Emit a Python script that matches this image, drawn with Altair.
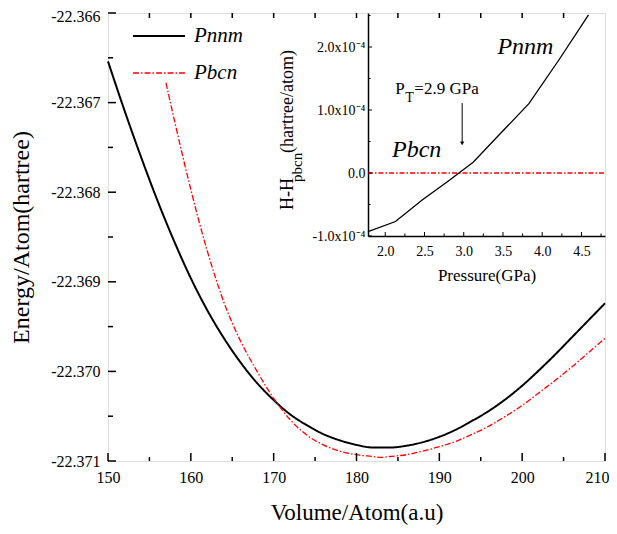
import altair as alt
import pandas as pd

FONT = "Liberation Serif"

# ---------------- main panel data ----------------
phases = ["Pnnm", "Pbcn"]
vol_pnnm = [150, 152, 154, 156, 158, 160, 162, 164, 166, 168, 170, 172, 174, 176, 178, 180,
            182, 184, 186, 188, 190, 192, 194, 196, 198, 200, 202, 204, 206, 208, 210]
e_pnnm = [-22.36654, -22.36709, -22.36761, -22.36810, -22.36855, -22.36896, -22.36932, -22.36963,
          -22.36990, -22.37013, -22.37032, -22.37048, -22.37060, -22.37070, -22.37077, -22.37082,
          -22.37085, -22.37085, -22.37083, -22.37079, -22.37073, -22.37065, -22.37055, -22.37044,
          -22.37031, -22.37016, -22.36999, -22.36981, -22.36962, -22.36943, -22.36924]
vol_pbcn = [157, 158, 159, 160, 161, 162, 163, 164, 165, 166, 168, 170, 172, 174, 176, 178, 180,
            182, 183, 184, 186, 188, 190, 192, 194, 196, 198, 200, 202, 204, 206, 208, 210]
e_pbcn = [-22.36678, -22.36719, -22.36759, -22.36797, -22.36833, -22.36866, -22.36896, -22.36923,
          -22.36946, -22.36966, -22.37000, -22.37030, -22.37054, -22.37071, -22.37082, -22.37089,
          -22.37093, -22.37095, -22.37096, -22.37095, -22.37093, -22.37089, -22.37084, -22.37078,
          -22.37070, -22.37061, -22.37050, -22.37038, -22.37024, -22.37010, -22.36995, -22.36979,
          -22.36963]

vol_major = [150, 160, 170, 180, 190, 200, 210]
vol_minor = [155, 165, 175, 185, 195, 205]
vol_top = [155, 160, 165, 170, 175, 180, 185, 190, 195, 200, 205]
e_major = [-22.371, -22.370, -22.369, -22.368, -22.367, -22.366]
e_minor = [-22.3705, -22.3695, -22.3685, -22.3675, -22.3665]

# ---------------- inset data ----------------
pressure = [1.78, 2.13, 2.47, 2.80, 3.12, 3.47, 3.83, 4.21, 4.59]
dH = [-0.93e-4, -0.77e-4, -0.43e-4, -0.13e-4, 0.17e-4, 0.63e-4, 1.10e-4, 1.79e-4, 2.51e-4]
zero_p = [1.78, 4.80]
zero_h = [0.0, 0.0]
p_major = [2.0, 2.5, 3.0, 3.5, 4.0, 4.5]
p_minor = [2.25, 2.75, 3.25, 3.75, 4.25, 4.75]
h_major = [-1.0e-4, 0.0, 1.0e-4, 2.0e-4]
h_minor = [-0.5e-4, 0.5e-4, 1.5e-4, 2.5e-4]

W, H = 497, 448
IX = [260, 497]     # inset x range (px inside plot)
IY = [223, 0]       # inset y range (bottom, top)

# ---------------- main panel ----------------
main_df = pd.concat([
    pd.DataFrame({"volume": vol_pnnm, "energy": e_pnnm, "phase": "Pnnm"}),
    pd.DataFrame({"volume": vol_pbcn, "energy": e_pbcn, "phase": "Pbcn"}),
])

x_main = alt.X("volume:Q",
               scale=alt.Scale(domain=[150, 210], nice=False, zero=False),
               axis=alt.Axis(values=vol_major, format="d", ticks=False, tickSize=0, domain=False,
                             grid=False, labelFont=FONT, labelFontSize=16, labelColor="black",
                             labelPadding=8, labelFlush=False,
                             labelAlign=alt.condition("datum.value == 210", alt.value("right"), alt.value("center")),
                             labelOffset=alt.condition("datum.value == 210", alt.value(4), alt.value(0)),
                             title="Volume/Atom(a.u)",
                             titleFont=FONT, titleFontSize=23, titleFontWeight="normal",
                             titleColor="black", titlePadding=16))
y_main = alt.Y("energy:Q",
               scale=alt.Scale(domain=[-22.371, -22.366], nice=False, zero=False),
               axis=alt.Axis(values=e_major, ticks=False, tickSize=0, domain=False,
                             labelExpr="'-' + format(abs(datum.value), '.3f')",
                             labelOffset=alt.condition("datum.value > -22.3661", alt.value(3), alt.value(0)),
                             grid=False, labelFont=FONT, labelFontSize=16, labelColor="black",
                             labelPadding=8, labelFlush=False, title="Energy/Atom(hartree)",
                             titleFont=FONT, titleFontSize=24, titleFontWeight="normal",
                             titleColor="black", titlePadding=17))

leg = alt.Legend(orient="none", legendX=24, legendY=-4, title=None, symbolType="stroke",
                 symbolSize=2700, labelFont=FONT, labelFontSize=21, labelFontStyle="italic",
                 labelColor="black", rowPadding=-8, labelOffset=8, padding=0)

lines = alt.Chart(main_df).mark_line(interpolate="monotone").encode(
    x=x_main, y=y_main,
    color=alt.Color("phase:N", scale=alt.Scale(domain=phases, range=["black", "red"]), legend=leg),
    strokeDash=alt.StrokeDash("phase:N", scale=alt.Scale(domain=phases, range=[[1, 0], [6, 2, 1.5, 2]]), legend=leg),
    strokeWidth=alt.StrokeWidth("phase:N", scale=alt.Scale(domain=phases, range=[2.0, 1.3]), legend=leg),
)

def vrule(vals, y0, y1):
    return alt.Chart(pd.DataFrame({"volume": vals})).mark_rule(color="black", strokeWidth=1.5).encode(
        x=x_main, y=alt.value(y0), y2=alt.value(y1))

def erule(vals, length):
    return alt.Chart(pd.DataFrame({"energy": vals})).mark_rule(color="black", strokeWidth=1.5).encode(
        y=y_main, x=alt.value(0), x2=alt.value(length))

main_layer = alt.layer(
    lines,
    vrule(vol_major, H, H - 8), vrule(vol_minor, H, H - 4), vrule(vol_top, 0, 5),
    erule(e_major, 8), erule(e_minor, 5),
)

# ---------------- inset ----------------
x_in = alt.X("p:Q",
             scale=alt.Scale(domain=[1.78, 4.80], range=IX, nice=False, zero=False),
             axis=alt.Axis(orient="bottom", offset=-(H - IY[0]), values=p_major, format=".1f",
                           ticks=False, tickSize=0, grid=False, domainColor="black", domainWidth=1.5,
                           labelFont=FONT, labelFontSize=14, labelColor="black", labelPadding=8,
                           labelFlush=False, title="Pressure(GPa)", titleFont=FONT, titleFontSize=17,
                           titleFontWeight="normal", titleColor="black", titlePadding=9))
y_in = alt.Y("h:Q",
             scale=alt.Scale(domain=[-1.0e-4, 2.54e-4], range=IY, nice=False, zero=False),
             axis=alt.Axis(orient="left", offset=-IX[0], values=h_major, ticks=False, tickSize=0,
                           grid=False, domainColor="black", domainWidth=1.5,
                           labelExpr="datum.value == 0 ? '0.0' : (datum.value < 0 ? '-' : '') + format(abs(datum.value) * 10000, '.1f') + 'x10⁻⁴'",
                           labelFont=FONT, labelFontSize=14, labelColor="black", labelPadding=3,
                           labelFlush=False, title=None))

curve = alt.Chart(pd.DataFrame({"p": pressure, "h": dH})).mark_line(
    color="black", strokeWidth=1.3).encode(x=x_in, y=y_in)
zero_line = alt.Chart(pd.DataFrame({"p": zero_p, "h": zero_h})).mark_line(
    color="red", strokeWidth=1.5, strokeDash=[5, 2, 1.5, 2]).encode(x=x_in, y=y_in)

def prule(vals, length):
    return alt.Chart(pd.DataFrame({"p": vals})).mark_rule(color="black", strokeWidth=1).encode(
        x=x_in, y=alt.value(IY[0]), y2=alt.value(IY[0] - length))

def hrule(vals, length):
    return alt.Chart(pd.DataFrame({"h": vals})).mark_rule(color="black", strokeWidth=1).encode(
        y=y_in, x=alt.value(IX[0]), x2=alt.value(IX[0] + length))

labels_df = pd.DataFrame({"p": [3.786, 2.40], "h": [2.0e-4, 0.365e-4], "t": ["Pnnm", "Pbcn"]})
phase_text = alt.Chart(labels_df).mark_text(font=FONT, fontSize=24, fontStyle="italic",
                                            color="black", align="center", baseline="middle").encode(
    x=x_in, y=y_in, text="t:N")

pt_df = pd.DataFrame({"p": [2.128], "h": [1.333e-4]})
pt_P = alt.Chart(pt_df).mark_text(text="P", font=FONT, fontSize=17, color="black",
                                  align="left", baseline="middle").encode(x=x_in, y=y_in)
pt_T = alt.Chart(pt_df).mark_text(text="T", font=FONT, fontSize=14, color="black",
                                  align="left", baseline="middle", dx=10, dy=9).encode(x=x_in, y=y_in)
pt_rest = alt.Chart(pt_df).mark_text(text="=2.9 GPa", font=FONT, fontSize=17, color="black",
                                     align="left", baseline="middle", dx=19).encode(x=x_in, y=y_in)

arrow_df = pd.DataFrame({"p": [2.98], "h": [1.11e-4], "h2": [0.47e-4]})
arrow_shaft = alt.Chart(arrow_df).mark_rule(color="black", strokeWidth=1).encode(
    x=x_in, y=y_in, y2="h2:Q")
arrow_head = alt.Chart(pd.DataFrame({"p": [2.98], "h": [0.47e-4]})).mark_point(
    shape="triangle-down", filled=True, color="black", size=18, opacity=1).encode(x=x_in, y=y_in)

one = pd.DataFrame({"k": [0]})
ytitle_a = alt.Chart(one).mark_text(text="H-H", font=FONT, fontSize=18, color="black", angle=270,
                                    align="left", baseline="middle").encode(x=alt.value(180), y=alt.value(197))
ytitle_b = alt.Chart(one).mark_text(text="pbcn", font=FONT, fontSize=15, color="black", angle=270,
                                    align="left", baseline="middle").encode(x=alt.value(189), y=alt.value(169))
ytitle_c = alt.Chart(one).mark_text(text="(hartree/atom)", font=FONT, fontSize=18, color="black", angle=270,
                                    align="left", baseline="middle").encode(x=alt.value(180), y=alt.value(140))

inset_layer = alt.layer(
    zero_line, curve,
    prule(p_major, 4), prule(p_minor, 2.5), hrule(h_major, 4), hrule(h_minor, 2.5),
    phase_text, pt_P, pt_T, pt_rest, arrow_shaft, arrow_head,
    ytitle_a, ytitle_b, ytitle_c,
)

chart = alt.layer(main_layer, inset_layer).resolve_scale(
    x="independent", y="independent"
).properties(
    width=W, height=H,
    padding={"left": 100, "top": 5, "right": 4, "bottom": 65},
    autosize=alt.AutoSizeParams(type="none"),
).configure_view(stroke="black", strokeWidth=2).configure(background="white")

chart.save("out.html", embed_options={"renderer": "svg", "actions": False})
